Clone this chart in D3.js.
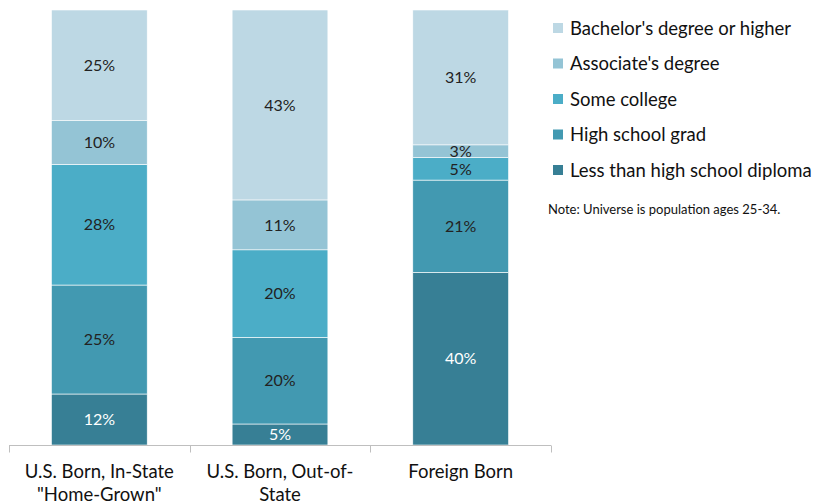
<!DOCTYPE html>
<html>
<head>
<meta charset="utf-8">
<script src="https://cdn.jsdelivr.net/npm/d3@7"></script>
<style>
  body { margin: 0; background: #fff; }
  svg text { font-family: Lato, "Open Sans", sans-serif; }
</style>
</head>
<body>
<div id="chart"></div>
<script>
// categories along the x axis (each split into lines)
const groups = [
  ["U.S. Born, In-State", "\"Home-Grown\""],
  ["U.S. Born, Out-of-", "State"],
  ["Foreign Born"]
];
// stack order, bottom to top
const levels = ["Less than high school diploma", "High school grad", "Some college",
                "Associate's degree", "Bachelor's degree or higher"];
// percent shares (estimated, labels show them rounded)
const lessThanHS = [11.7, 4.8, 39.7];
const hsGrad     = [25.0, 19.8, 21.2];
const someCol    = [27.7, 20.0, 5.2];
const associate  = [10.0, 11.4, 2.9];
const bachelor   = [25.4, 43.4, 31.0];
const colors = ["#377f95", "#4299b1", "#4badc7", "#94c4d5", "#bdd8e4"];
const labelColors = ["#ffffff", "#222222", "#222222", "#222222", "#222222"];

const width = 817, height = 504;
const margin = {top: 10, left: 9, bottom: 59, plotRight: 551};

let rows = groups.map(function(g, i){
  return {key: i, vals: [lessThanHS[i], hsGrad[i], someCol[i], associate[i], bachelor[i]]};
});
let keys = d3.range(levels.length);
let series = d3.stack()
  .keys(keys)
  .value(function(d, k){ return d.vals[k]; })
  .offset(d3.stackOffsetExpand)(rows);

let svg = d3.select("#chart").append("svg")
  .attr("width", width).attr("height", height);

let xScale = d3.scaleBand()
  .domain(d3.range(groups.length))
  .range([margin.left, margin.plotRight])
  .paddingInner(0.47).paddingOuter(0.235);
let yScale = d3.scaleLinear()
  .domain([0, 1])
  .range([height - margin.bottom, margin.top]);

let layers = svg.append("g").selectAll("g").data(series).enter().append("g")
  .attr("fill", function(d){ return colors[d.key]; });

layers.selectAll("rect").data(function(d){ return d; }).enter().append("rect")
  .attr("x", function(d){ return xScale(d.data.key); })
  .attr("y", function(d){ return yScale(d[1]); })
  .attr("width", xScale.bandwidth())
  .attr("height", function(d){ return yScale(d[0]) - yScale(d[1]); })
  .attr("stroke", "#ffffff")
  .attr("stroke-width", 0.6);

// value labels
layers.each(function(s){
  d3.select(this).selectAll("text").data(s).enter().append("text")
    .attr("x", function(d){ return xScale(d.data.key) + xScale.bandwidth() / 2; })
    .attr("y", function(d){ return (yScale(d[0]) + yScale(d[1])) / 2; })
    .attr("dy", "0.36em")
    .attr("text-anchor", "middle")
    .attr("font-size", 16)
    .attr("fill", labelColors[s.key])
    .text(function(d){ return Math.round(d.data.vals[s.key]) + "%"; });
});

// x axis: baseline with ticks at band edges
let axisY = yScale(0) + 0.5;
let axisG = svg.append("g");
axisG.append("line")
  .attr("x1", margin.left).attr("x2", margin.plotRight)
  .attr("y1", axisY).attr("y2", axisY)
  .attr("stroke", "#bfbfbf");
let edges = d3.range(groups.length + 1).map(function(i){
  return margin.left + i * (margin.plotRight - margin.left) / groups.length;
});
axisG.selectAll(".tk").data(edges).enter().append("line")
  .attr("x1", function(d){ return Math.round(d) + 0.5; })
  .attr("x2", function(d){ return Math.round(d) + 0.5; })
  .attr("y1", axisY).attr("y2", axisY + 7)
  .attr("stroke", "#bfbfbf");

axisG.selectAll(".cat").data(groups).enter().append("text")
  .attr("text-anchor", "middle")
  .attr("font-size", 18.5)
  .attr("fill", "#111")
  .each(function(d, i){
    let t = d3.select(this);
    d.forEach(function(line, j){
      t.append("tspan")
        .attr("x", xScale(i) + xScale.bandwidth() / 2)
        .attr("y", 478 + j * 23)
        .text(line);
    });
  });

// legend, top entry = top of stack
let legend = svg.append("g").attr("transform", "translate(553,0)");
let legOrder = keys.slice().reverse();
let item = legend.selectAll("g").data(legOrder).enter().append("g")
  .attr("transform", function(d, i){ return "translate(0," + (28 + i * 35.5) + ")"; });
item.append("rect")
  .attr("x", 0).attr("y", -5).attr("width", 10).attr("height", 10)
  .attr("fill", function(d){ return colors[d]; });
item.append("text")
  .attr("x", 17).attr("dy", "0.36em")
  .attr("font-size", 18.5)
  .attr("fill", "#111")
  .text(function(d){ return levels[d]; });

svg.append("text")
  .attr("x", 548).attr("y", 214)
  .attr("font-size", 13)
  .attr("fill", "#111")
  .text("Note:  Universe is population ages 25-34.");
</script>
</body>
</html>
